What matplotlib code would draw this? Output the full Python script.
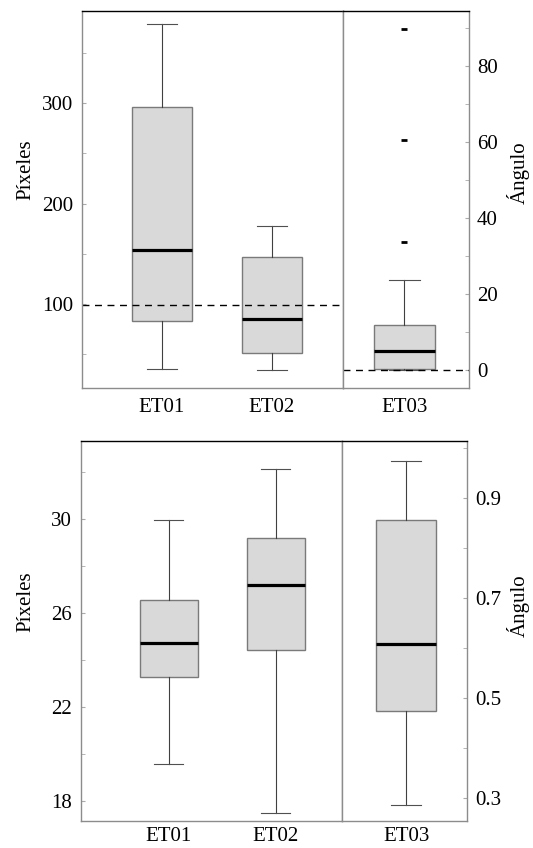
import matplotlib
matplotlib.use("Agg")
import matplotlib.pyplot as plt
from matplotlib.ticker import FixedLocator

plt.rcParams['font.family'] = ['Liberation Serif', 'DejaVu Serif']

# top panel: pixel error (ET01, ET02) and angle error (ET03)
px_labels = ["ET01", "ET02"]
px_whislo = [35, 34]
px_q1 = [83, 51]
px_med = [154, 85]
px_q3 = [296, 147]
px_whishi = [379, 178]
px_ref = 99

ang_labels = ["ET03"]
ang_whislo = [0.0]
ang_q1 = [0.3]
ang_med = [5.0]
ang_q3 = [11.8]
ang_whishi = [23.6]
ang_fliers = [[33.8, 60.4, 89.8]]
ang_ref = 0

# bottom panel
px2_whislo = [19.55, 17.47]
px2_q1 = [23.25, 24.42]
px2_med = [24.72, 27.17]
px2_q3 = [26.53, 29.2]
px2_whishi = [29.96, 32.12]

ang2_whislo = [0.286]
ang2_q1 = [0.473]
ang2_med = [0.609]
ang2_q3 = [0.8565]
ang2_whishi = [0.9756]

GRAY = "#8c8c8c"
FONT = 15


def stats(labels, lo, q1, med, q3, hi, fliers=None):
    out = []
    for i in range(len(labels)):
        out.append(dict(label=labels[i], whislo=lo[i], q1=q1[i], med=med[i],
                        q3=q3[i], whishi=hi[i],
                        fliers=fliers[i] if fliers else []))
    return out


def draw(ax, st, width):
    ax.bxp(st, widths=width, showfliers=True, patch_artist=True,
           boxprops=dict(facecolor="#d9d9d9", edgecolor="#7a7a7a", linewidth=1.0),
           medianprops=dict(color="black", linewidth=2.3),
           whiskerprops=dict(color="#404040", linewidth=0.8),
           capprops=dict(color="#505050", linewidth=0.8),
           flierprops=dict(marker="_", markersize=4.2, markeredgewidth=2.0,
                           markeredgecolor="black"))


def style(ax):
    for s in ax.spines.values():
        s.set_color(GRAY)
        s.set_linewidth(1.0)
    ax.spines["top"].set_color("black")
    ax.tick_params(axis="x", length=0, labelsize=FONT, pad=7)
    ax.tick_params(axis="y", which="both", direction="in", length=3,
                   color="#aaaaaa", labelsize=FONT, pad=6)


fig = plt.figure(figsize=(5.33, 8.48), dpi=100)
W, H = 533.0, 848.0


def box(l, r, t, b):
    return [l / W, 1 - b / H, (r - l) / W, (b - t) / H]


# ---- top panel
ax1 = fig.add_axes(box(82, 342.7, 10.7, 388.3))
ax2 = fig.add_axes(box(342.7, 468.7, 10.7, 388.3))

draw(ax1, stats(px_labels, px_whislo, px_q1, px_med, px_q3, px_whishi), 0.546)
draw(ax2, stats(ang_labels, ang_whislo, ang_q1, ang_med, ang_q3, ang_whishi,
                ang_fliers), 0.556)
ax1.axhline(px_ref, color="black", linewidth=1.0, linestyle=(0, (5, 4)))
ax2.axhline(ang_ref, color="black", linewidth=1.0, linestyle=(0, (5, 4)))

ax1.set_xlim(0.276, 2.644)
ax1.set_ylim(16, 392)
ax1.yaxis.set_major_locator(FixedLocator([100, 200, 300]))
ax1.yaxis.set_minor_locator(FixedLocator([50, 150, 250, 350]))
ax2.set_xlim(0.44, 1.585)
ax2.set_ylim(-4.8, 94.5)
ax2.yaxis.tick_right()
ax2.yaxis.set_major_locator(FixedLocator([0, 20, 40, 60, 80]))
ax2.yaxis.set_minor_locator(FixedLocator([10, 30, 50, 70, 90]))
style(ax1)
style(ax2)

fig.text(26 / W, 1 - 170 / H, "Píxeles", rotation=90, fontsize=FONT,
         ha="center", va="center")
fig.text(518 / W, 1 - 173 / H, "Ángulo", rotation=90, fontsize=FONT,
         ha="center", va="center")

# ---- bottom panel
ax3 = fig.add_axes(box(80.5, 341.5, 441, 820.5))
ax4 = fig.add_axes(box(341.5, 467, 441, 820.5))

draw(ax3, stats(px_labels, px2_whislo, px2_q1, px2_med, px2_q3, px2_whishi), 0.545)
draw(ax4, stats(ang_labels, ang2_whislo, ang2_q1, ang2_med, ang2_q3,
                ang2_whishi), 0.56)

ax3.set_xlim(0.171, 2.618)
ax3.set_ylim(17.15, 33.33)
ax3.yaxis.set_major_locator(FixedLocator([18, 22, 26, 30]))
ax3.yaxis.set_minor_locator(FixedLocator([20, 24, 28, 32]))
ax4.set_xlim(0.395, 1.567)
ax4.set_ylim(0.2545, 1.015)
ax4.yaxis.tick_right()
ax4.yaxis.set_major_locator(FixedLocator([0.3, 0.5, 0.7, 0.9]))
ax4.yaxis.set_minor_locator(FixedLocator([0.4, 0.6, 0.8, 1.0]))
style(ax3)
style(ax4)
ax3.tick_params(axis="x", pad=5)
ax4.tick_params(axis="x", pad=5)

fig.text(26 / W, 1 - 602 / H, "Píxeles", rotation=90, fontsize=FONT,
         ha="center", va="center")
fig.text(518 / W, 1 - 606 / H, "Ángulo", rotation=90, fontsize=FONT,
         ha="center", va="center")

fig.savefig("out.png", dpi=100)
